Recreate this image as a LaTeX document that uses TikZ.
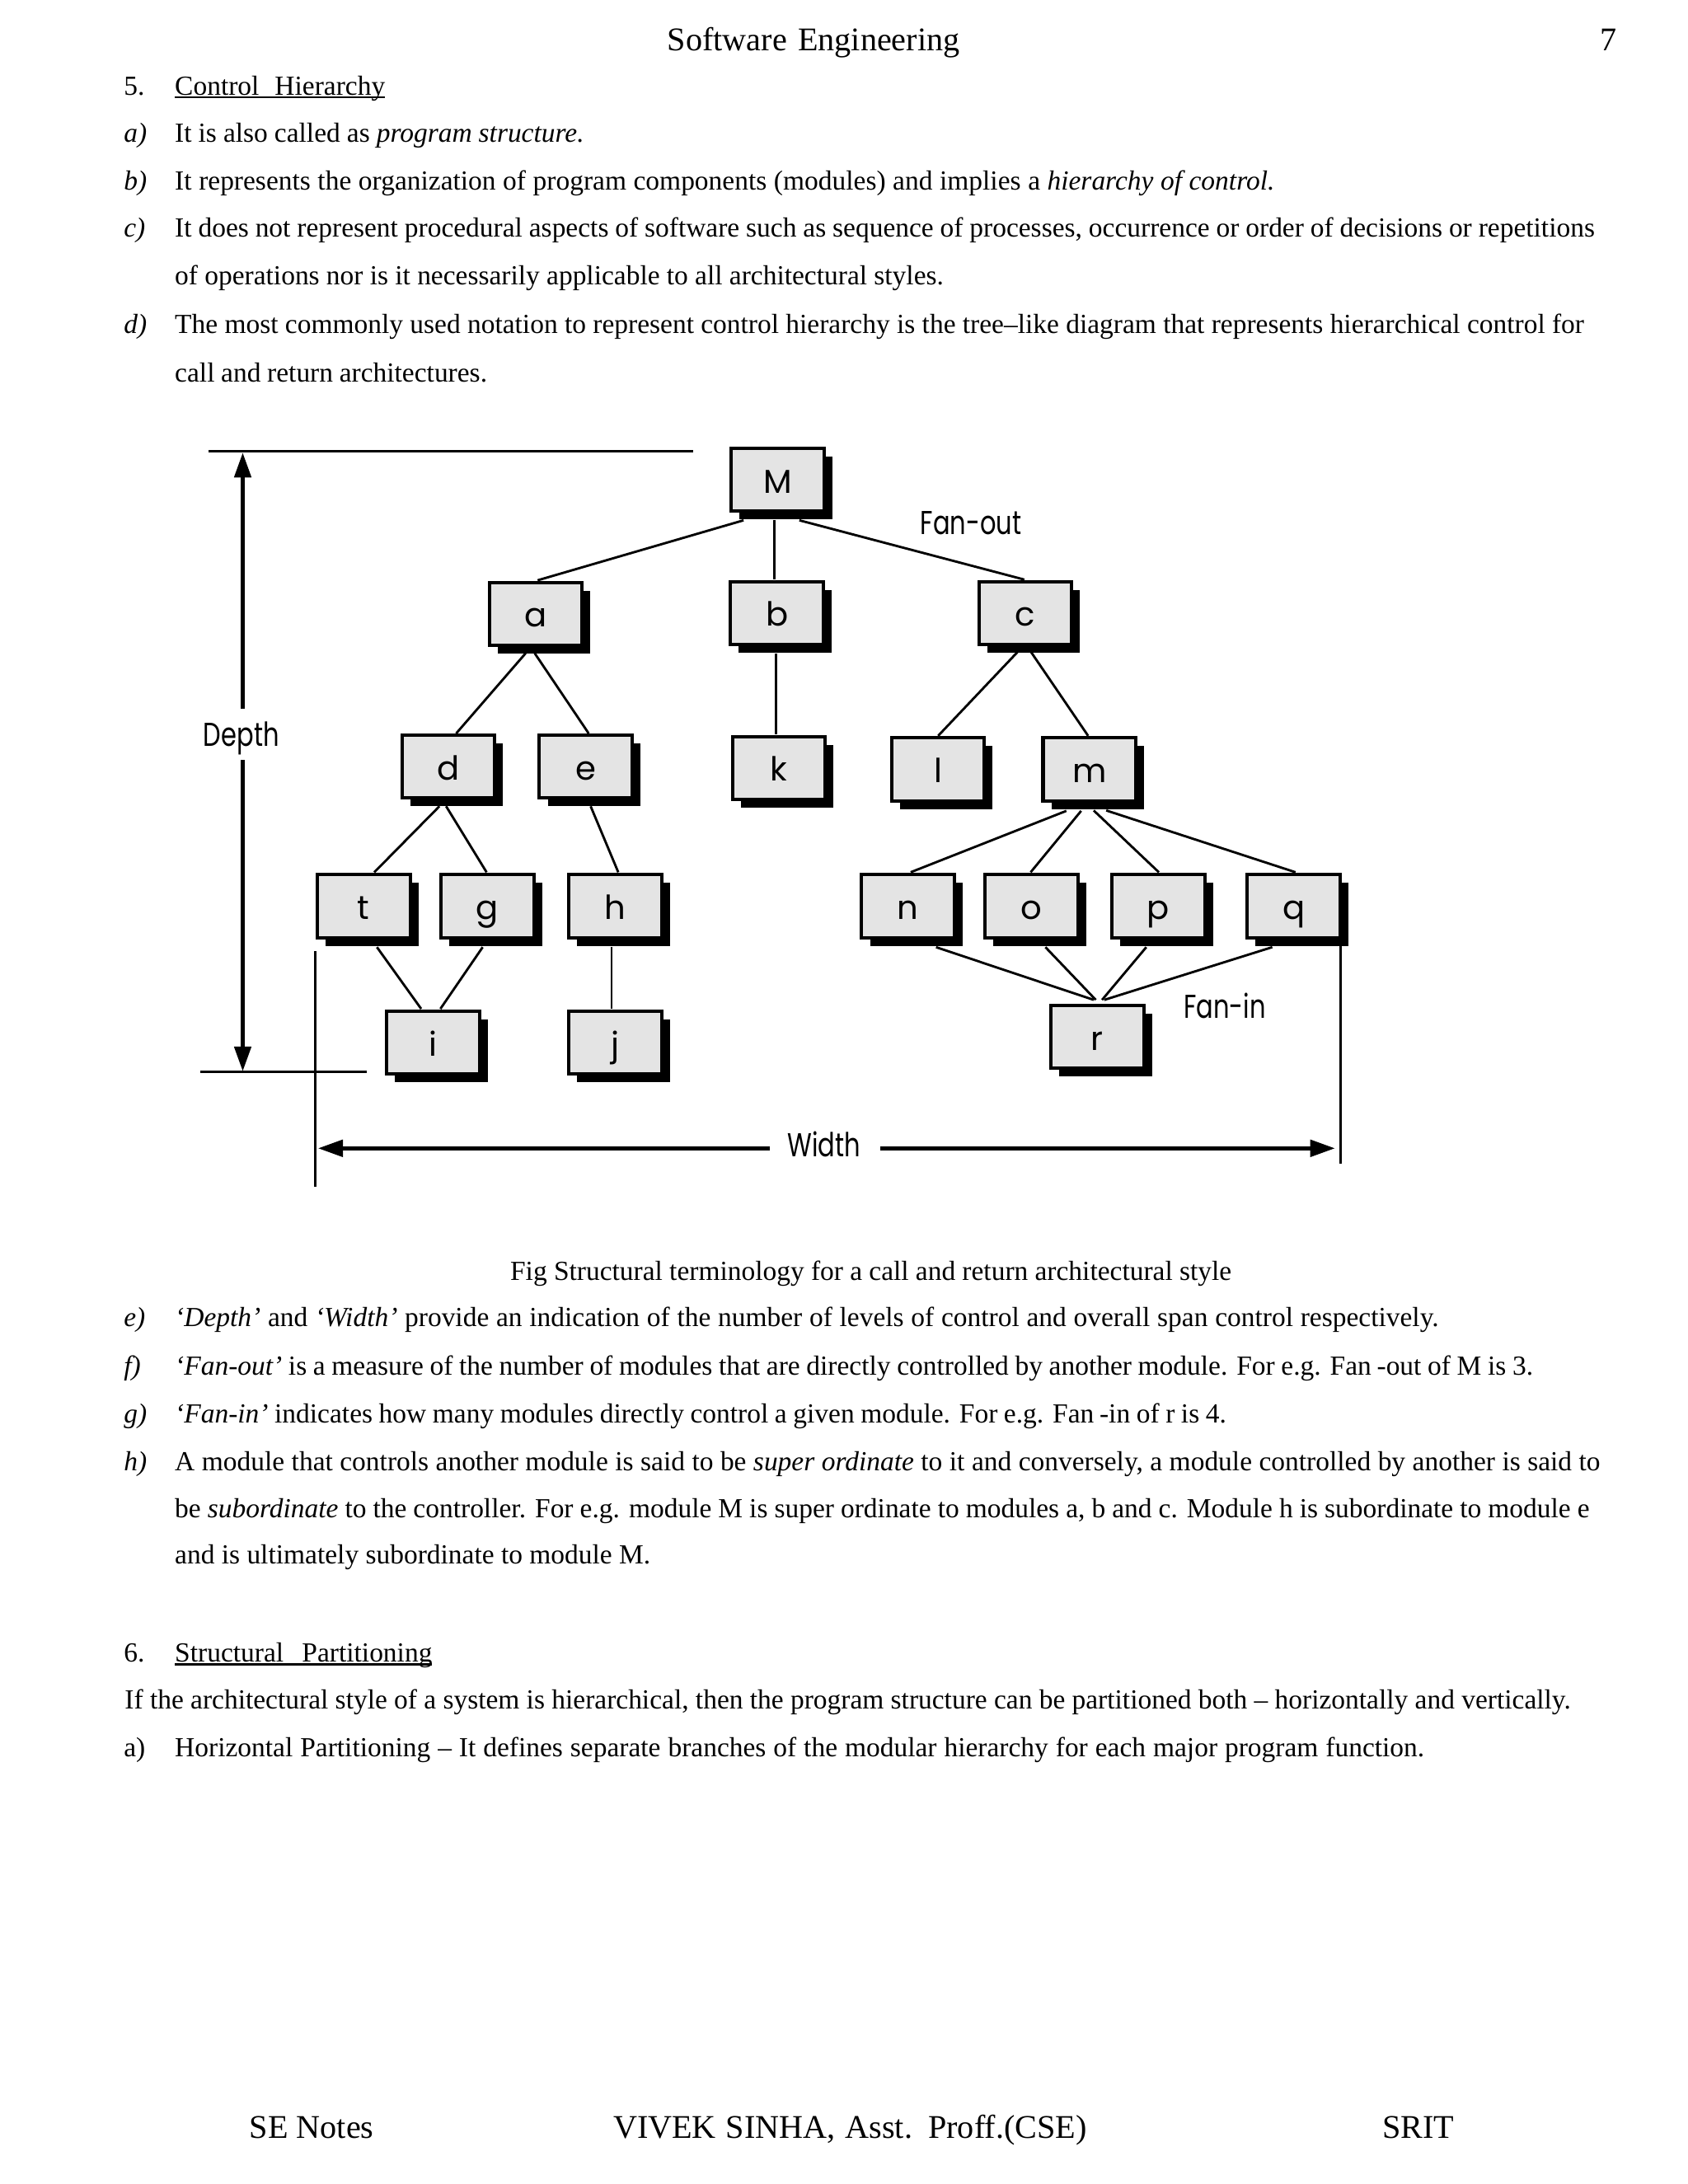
\documentclass[tikz,border=0pt]{standalone}
\usepackage{fontspec}
\setmainfont{Liberation Serif}
\newfontfamily\boxfont{Poppins}
\newfontfamily\labfont{Poppins}[FakeStretch=0.76]
\usetikzlibrary{shadows,arrows.meta,calc,backgrounds}
\definecolor{boxgray}{HTML}{E4E4E4}
\tikzset{
  txt/.style={anchor=base west, inner sep=0pt, outer sep=0pt, font=\fontsize{10}{12}\selectfont},
  bigtxt/.style={anchor=base west, inner sep=0pt, outer sep=0pt, font=\fontsize{12}{14}\selectfont},
  uline/.style={line width=0.75pt},
  mod/.style={draw, line width=1.2pt, fill=boxgray, minimum width=33.7pt, minimum height=22.8pt,
    inner sep=0pt, text height=9.6pt, text depth=0pt, font=\boxfont\fontsize{12}{14}\selectfont,
    drop shadow={shadow xshift=3pt, shadow yshift=-3pt, opacity=1, fill=black}},
  conn/.style={line width=0.85pt},
  lab/.style={anchor=base, inner sep=0pt, font=\labfont\fontsize{12}{14}\selectfont},
  dim/.style={line width=1.4pt, -{Triangle[length=9pt,width=6pt]}},
  bound/.style={line width=0.9pt}
}
\begin{document}
\begin{tikzpicture}[x=0.50579pt, y=-0.50579pt]
\useasboundingbox (0,0) rectangle (1210,1565.7);
\begin{scope}[on background layer]
  \fill[white] (0,0) rectangle (1210,1565.7);
\end{scope}

% header
\node[bigtxt] (hdr) at (478.5,36.5) {\makebox[105.96pt][s]{Software Engineering}};
\node[bigtxt] (pg) at (1147,36.5) {7};

% section 5
\node[txt] (n5) at (88.8,68) {5.};
\node[txt] (h1) at (125.4,68) {\makebox[76.2pt][s]{Control Hierarchy}};
\draw[uline] ($(h1.base west)+(0,1.6)$) -- ($(h1.base east)+(0,1.6)$);

\node[txt] (la) at (88.8,102) {\textit{a)}};
\node[txt] (ta) at (125.4,102) {\makebox[148.35pt][s]{It is also called as \textit{program structure.}}};
\node[txt] (lb) at (88.8,136) {\textit{b)}};
\node[txt] (tb) at (125.4,136) {\makebox[398.7pt][s]{It represents the organization of program components (modules) and implies a \textit{hierarchy of control.}}};
\node[txt] (lc) at (88.8,170) {\textit{c)}};
\node[txt] (tc1) at (125.4,170) {\makebox[514.8pt][s]{It does not represent procedural aspects of software such as sequence of processes, occurrence or order of decisions or repetitions}};
\node[txt] (tc2) at (125.4,204) {\makebox[278.7pt][s]{of operations nor is it necessarily applicable to all architectural styles.}};
\node[txt] (ld) at (88.8,239) {\textit{d)}};
\node[txt] (td1) at (125.4,239) {\makebox[510.9pt][s]{The most commonly used notation to represent control hierarchy is the tree–like diagram that represents hierarchical control for}};
\node[txt] (td2) at (125.4,274) {\makebox[113.2pt][s]{call and return architectures.}};

% diagram modules
\node[mod] (M) at (557.4,344) {M};
\node[mod] (a) at (384,440) {a};
\node[mod] (b) at (557,439.5) {b};
\node[mod] (c) at (735,439.5) {c};
\node[mod] (d) at (321.4,549.5) {d};
\node[mod] (e) at (420,549.5) {e};
\node[mod] (k) at (558.3,550.5) {k};
\node[mod] (l) at (672.4,551.5) {l};
\node[mod] (m) at (781,551.5) {m};
\node[mod] (t) at (260.7,649.6) {t};
\node[mod] (g) at (349.4,649.6) {g};
\node[mod] (h) at (441,649.6) {h};
\node[mod] (n) at (651,649.6) {n};
\node[mod] (o) at (739.4,649.6) {o};
\node[mod] (p) at (830.4,649.6) {p};
\node[mod] (q) at (927.5,649.6) {q};
\node[mod] (i) at (310.5,747.4) {i};
\node[mod] (j) at (441,747.4) {j};
\node[mod] (r) at (786.5,743.4) {r};

% labels
\node[lab] (fanout) at (696,383) {Fan-out};
\node[lab] (fanin) at (878,729.7) {Fan-in};
\node[lab] (depth) at (173,535) {Depth};
\node[lab] (width) at (590.8,829) {Width};

% connectors
\begin{scope}[on background layer]
\draw[conn] ($(M)+(-24.4,29)$) -- ($(a)+(1.4,-24)$);
\draw[conn] ($(M)+(-2.4,29)$) -- ($(b)+(-2,-24)$);
\draw[conn] ($(M)+(15.6,29)$) -- ($(c)+(-0.7,-24)$);
\draw[conn] ($(a)+(-7.2,28.3)$) -- ($(d)+(5.6,-23.7)$);
\draw[conn] ($(a)+(-0.7,28.3)$) -- ($(e)+(2,-23.7)$);
\draw[conn] ($(b)+(-0.6,29)$) -- ($(k)+(-1.9,-24)$);
\draw[conn] ($(c)+(-5.2,27.5)$) -- ($(l)+(0.1,-24)$);
\draw[conn] ($(c)+(3.8,27.5)$) -- ($(m)+(-1,-24)$);
\draw[conn] ($(d)+(-6.4,28.5)$) -- ($(t)+(7.6,-24.3)$);
\draw[conn] ($(d)+(-1.6,28.5)$) -- ($(g)+(-0.6,-24.3)$);
\draw[conn] ($(e)+(3.4,28.5)$) -- ($(h)+(2.2,-24.3)$);
\draw[conn] ($(t)+(9.5,29.4)$) -- ($(i)+(-8.6,-24.2)$);
\draw[conn] ($(g)+(-3.4,29.4)$) -- ($(i)+(5.2,-24.2)$);
\draw[conn] ($(h)+(-2.6,29.4)$) -- ($(j)+(-2.6,-24.2)$);
\draw[conn] ($(m)+(-16.6,29.8)$) -- ($(n)+(1.8,-24.3)$);
\draw[conn] ($(m)+(-6,29.8)$) -- ($(o)+(-0.6,-24.3)$);
\draw[conn] ($(m)+(3,29.5)$) -- ($(p)+(0.3,-24.3)$);
\draw[conn] ($(m)+(12,29.5)$) -- ($(q)+(1.2,-24.3)$);
\draw[conn] ($(n)+(20,29.4)$) -- ($(r)+(-2.5,-26.6)$);
\draw[conn] ($(o)+(10,29.4)$) -- ($(r)+(-1,-26.6)$);
\draw[conn] ($(p)+(-8.7,29.4)$) -- ($(r)+(3.5,-26.6)$);
\draw[conn] ($(q)+(-15.5,29.4)$) -- ($(r)+(5.1,-26.6)$);
\end{scope}

% depth dimension
\coordinate (tl1) at (149.5,323.4);
\coordinate (tl2) at (497,323.4);
\coordinate (bl1) at (143.5,768.6);
\coordinate (bl2) at (262.8,768.6);
\draw[bound] (tl1) -- (tl2);
\draw[bound] (bl1) -- (bl2);
\coordinate (dtop) at (174,324.5);
\coordinate (dg1) at (174,508);
\coordinate (dg2) at (174,545);
\coordinate (dbot) at (174,768);
\draw[dim] (dg1) -- (dtop);
\draw[dim] (dg2) -- (dbot);

% width dimension
\coordinate (wl1) at (226,681.8);
\coordinate (wl2) at (226,850.8);
\coordinate (wr1) at (961,678);
\coordinate (wr2) at (961,834);
\draw[bound, line width=1.1pt] (wl1) -- (wl2);
\draw[bound, line width=1.1pt] (wr1) -- (wr2);
\coordinate (wg1) at (552,823.2);
\coordinate (wt1) at (228,823.2);
\coordinate (wg2) at (631,823.2);
\coordinate (wt2) at (957,823.2);
\draw[dim] (wg1) -- (wt1);
\draw[dim] (wg2) -- (wt2);

% caption and following text
\node[txt] (cap) at (365.8,918) {\makebox[261.5pt][s]{Fig Structural terminology for a call and return architectural style}};
\node[txt] (le) at (88.8,951) {\textit{e)}};
\node[txt] (te) at (125.4,951) {\makebox[458.2pt][s]{\textit{‘Depth’} and \textit{‘Width’} provide an indication of the number of levels of control and overall span control respectively.}};
\node[txt] (lf) at (88.8,985.7) {\textit{f)}};
\node[txt] (tf) at (125.4,985.7) {\makebox[492.4pt][s]{\textit{‘Fan-out’} is a measure of the number of modules that are directly controlled by another module. For e.g. Fan\kern2pt-out of M is 3.}};
\node[txt] (lg) at (88.8,1020) {\textit{g)}};
\node[txt] (tg) at (125.4,1020) {\makebox[381.2pt][s]{\textit{‘Fan-in’} indicates how many modules directly control a given module. For e.g. Fan\kern2pt-in of r is 4.}};
\node[txt] (lh) at (88.8,1054.6) {\textit{h)}};
\node[txt] (th1) at (125.4,1054.6) {\makebox[516.8pt][s]{A module that controls another module is said to be \textit{super ordinate} to it and conversely, a module controlled by another is said to}};
\node[txt] (th2) at (125.4,1088) {\makebox[512.9pt][s]{be \textit{subordinate} to the controller. For e.g. module M is super ordinate to modules a, b and c. Module h is subordinate to module e}};
\node[txt] (th3) at (125.4,1121) {\makebox[172.4pt][s]{and is ultimately subordinate to module M.}};

% section 6
\node[txt] (n6) at (88.8,1191.6) {6.};
\node[txt] (h2) at (125.4,1191.6) {\makebox[93.3pt][s]{Structural Partitioning}};
\draw[uline] ($(h2.base west)+(0,1.6)$) -- ($(h2.base east)+(0,1.6)$);
\node[txt] (ti) at (89.5,1225) {\makebox[524.2pt][s]{If the architectural style of a system is hierarchical, then the program structure can be partitioned both – horizontally and vertically.}};
\node[txt] (la2) at (88.8,1259.6) {a)};
\node[txt] (tha) at (125.4,1259.6) {\makebox[453pt][s]{Horizontal Partitioning – It defines separate branches of the modular hierarchy for each major program function.}};

% footer
\node[bigtxt] (f1) at (179,1533) {\makebox[45pt][s]{SE Notes}};
\node[bigtxt] (f2) at (439.6,1533) {\makebox[171.7pt][s]{VIVEK SINHA, Asst. Proff.(CSE)}};
\node[bigtxt] (f3) at (991,1533) {SRIT};
\end{tikzpicture}
\end{document}
